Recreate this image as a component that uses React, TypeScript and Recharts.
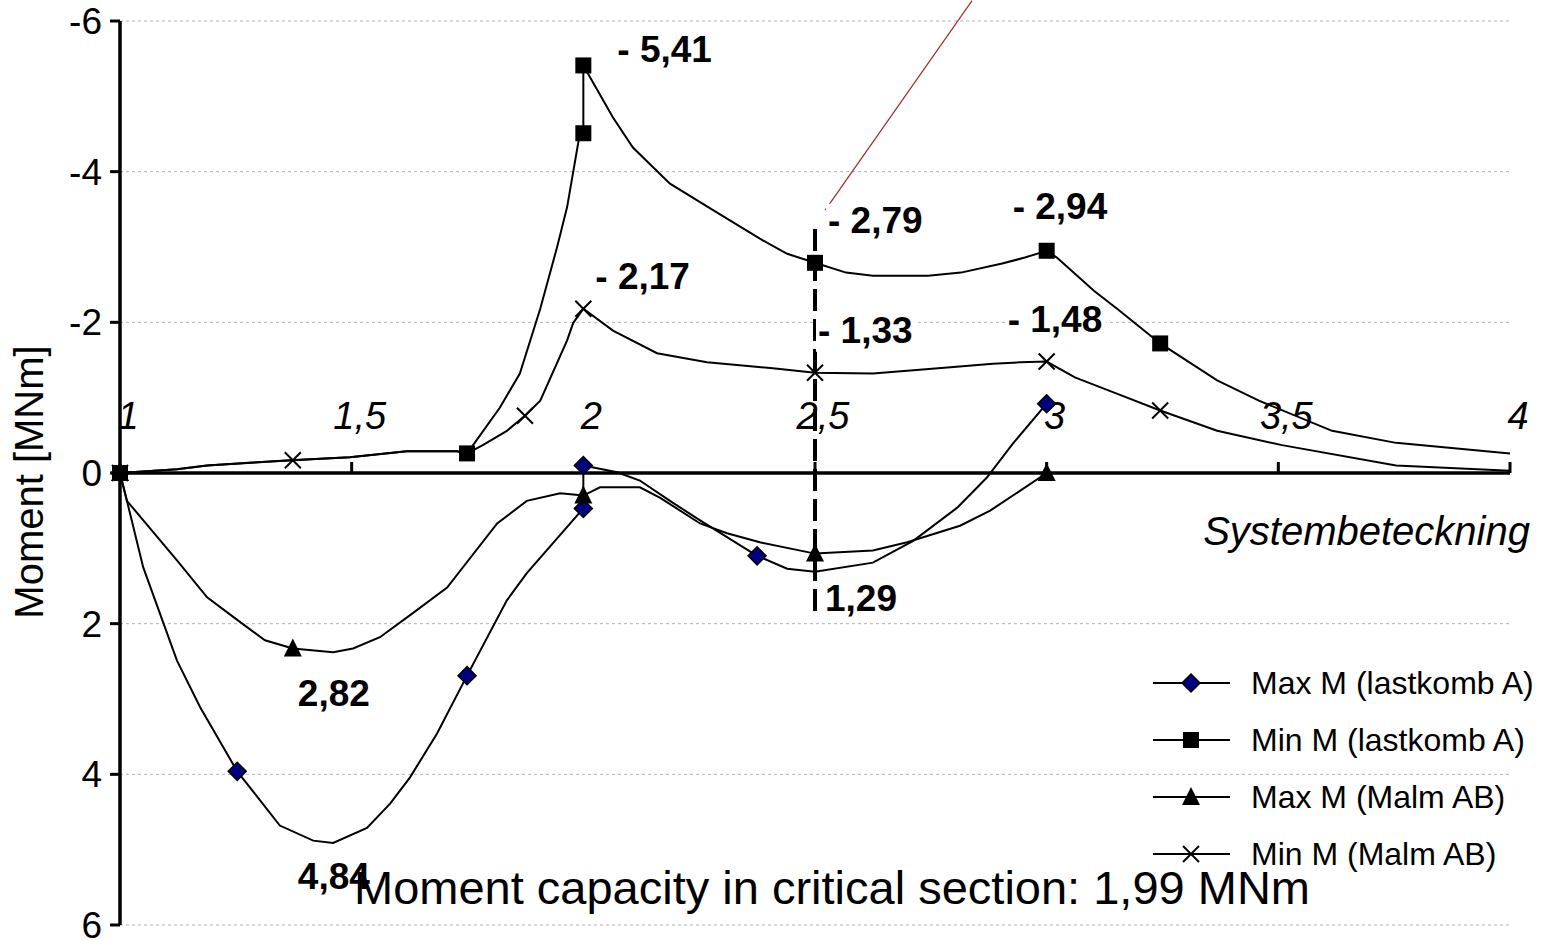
import React from 'react';
import { LineChart, Line, XAxis, YAxis, CartesianGrid, ReferenceLine, ReferenceDot, Legend } from 'recharts';

type Pt = { x: number; y: number; m?: boolean };

// Max M (lastkomb A) - diamonds
const maxLastkombA: Pt[] = [
  { x: 1, y: 0, m: true }, { x: 1.015, y: 0.37 }, { x: 1.05, y: 1.25 }, { x: 1.123, y: 2.49 },
  { x: 1.173, y: 3.11 }, { x: 1.253, y: 3.96, m: true }, { x: 1.345, y: 4.68 }, { x: 1.417, y: 4.88 },
  { x: 1.46, y: 4.91 }, { x: 1.533, y: 4.71 }, { x: 1.583, y: 4.39 }, { x: 1.626, y: 4.04 },
  { x: 1.684, y: 3.46 }, { x: 1.749, y: 2.69, m: true }, { x: 1.835, y: 1.69 }, { x: 1.878, y: 1.33 },
  { x: 2, y: 0.47, m: true }, { x: 2, y: -0.1, m: true }, { x: 2.073, y: -0.01 }, { x: 2.122, y: 0.1 },
  { x: 2.187, y: 0.37 }, { x: 2.252, y: 0.63 }, { x: 2.375, y: 1.1, m: true }, { x: 2.44, y: 1.27 },
  { x: 2.5, y: 1.31 }, { x: 2.625, y: 1.19 }, { x: 2.712, y: 0.9 }, { x: 2.807, y: 0.46 },
  { x: 2.871, y: 0.06 }, { x: 2.927, y: -0.39 }, { x: 3, y: -0.92, m: true },
];

// Min M (lastkomb A) - squares
const minLastkombA: Pt[] = [
  { x: 1, y: 0, m: true }, { x: 1.123, y: -0.05 }, { x: 1.188, y: -0.1 }, { x: 1.367, y: -0.17 },
  { x: 1.496, y: -0.21 }, { x: 1.619, y: -0.29 }, { x: 1.727, y: -0.29 }, { x: 1.749, y: -0.26, m: true },
  { x: 1.762, y: -0.37 }, { x: 1.82, y: -0.87 }, { x: 1.863, y: -1.32 }, { x: 1.907, y: -2.18 },
  { x: 1.943, y: -2.99 }, { x: 1.965, y: -3.53 }, { x: 1.99, y: -4.42 }, { x: 2, y: -4.51, m: true },
  { x: 2, y: -5.41, m: true }, { x: 2.064, y: -4.72 }, { x: 2.107, y: -4.32 }, { x: 2.187, y: -3.84 },
  { x: 2.28, y: -3.49 }, { x: 2.381, y: -3.11 }, { x: 2.44, y: -2.91 }, { x: 2.5, y: -2.79, m: true },
  { x: 2.567, y: -2.66 }, { x: 2.625, y: -2.62 }, { x: 2.744, y: -2.62 }, { x: 2.815, y: -2.66 },
  { x: 2.904, y: -2.78 }, { x: 2.953, y: -2.86 }, { x: 3, y: -2.95, m: true }, { x: 3.022, y: -2.86 },
  { x: 3.102, y: -2.42 }, { x: 3.152, y: -2.18 }, { x: 3.245, y: -1.72, m: true }, { x: 3.368, y: -1.23 },
  { x: 3.458, y: -0.96 }, { x: 3.616, y: -0.56 }, { x: 3.754, y: -0.4 }, { x: 4, y: -0.26 },
];

// Max M (Malm AB) - triangles
const maxMalmAB: Pt[] = [
  { x: 1, y: 0, m: true }, { x: 1.015, y: 0.37 }, { x: 1.123, y: 1.16 }, { x: 1.188, y: 1.65 },
  { x: 1.253, y: 1.95 }, { x: 1.313, y: 2.22 }, { x: 1.373, y: 2.33, m: true }, { x: 1.46, y: 2.38 },
  { x: 1.503, y: 2.33 }, { x: 1.561, y: 2.18 }, { x: 1.632, y: 1.86 }, { x: 1.706, y: 1.52 },
  { x: 1.814, y: 0.67 }, { x: 1.878, y: 0.37 }, { x: 1.95, y: 0.27 }, { x: 2, y: 0.3, m: true },
  { x: 2.036, y: 0.19 }, { x: 2.122, y: 0.19 }, { x: 2.166, y: 0.33 }, { x: 2.252, y: 0.67 },
  { x: 2.31, y: 0.8 }, { x: 2.381, y: 0.92 }, { x: 2.5, y: 1.07, m: true }, { x: 2.625, y: 1.03 },
  { x: 2.699, y: 0.92 }, { x: 2.813, y: 0.7 }, { x: 2.878, y: 0.5 }, { x: 3, y: 0, m: true },
];

// Min M (Malm AB) - crosses
const minMalmAB: Pt[] = [
  { x: 1, y: 0, m: true }, { x: 1.123, y: -0.05 }, { x: 1.188, y: -0.1 }, { x: 1.373, y: -0.17, m: true },
  { x: 1.496, y: -0.21 }, { x: 1.619, y: -0.29 }, { x: 1.727, y: -0.29 }, { x: 1.749, y: -0.26 },
  { x: 1.783, y: -0.37 }, { x: 1.835, y: -0.56 }, { x: 1.874, y: -0.76, m: true }, { x: 1.907, y: -0.96 },
  { x: 1.965, y: -1.76 }, { x: 1.978, y: -1.99 }, { x: 2, y: -2.18, m: true }, { x: 2.064, y: -1.89 },
  { x: 2.159, y: -1.59 }, { x: 2.267, y: -1.47 }, { x: 2.409, y: -1.39 }, { x: 2.5, y: -1.33, m: true },
  { x: 2.625, y: -1.32 }, { x: 2.766, y: -1.39 }, { x: 2.884, y: -1.45 }, { x: 2.943, y: -1.47 },
  { x: 3, y: -1.48, m: true }, { x: 3.061, y: -1.27 }, { x: 3.161, y: -1.03 }, { x: 3.245, y: -0.83, m: true },
  { x: 3.368, y: -0.56 }, { x: 3.508, y: -0.37 }, { x: 3.754, y: -0.1 }, { x: 4, y: -0.03 },
];

const xTicks = [1, 1.5, 2, 2.5, 3, 3.5, 4];
const xTickLabels = ['1', '1,5', '2', '2,5', '3', '3,5', '4'];
const yTicks = [-6, -4, -2, 0, 2, 4, 6];

const annotations = [
  { x: 2, y: -5.41, text: '- 5,41' },
  { x: 2, y: -2.18, text: '- 2,17' },
  { x: 2.5, y: -2.79, text: '- 2,79' },
  { x: 2.5, y: -1.33, text: '- 1,33' },
  { x: 3, y: -2.95, text: '- 2,94' },
  { x: 3, y: -1.48, text: '- 1,48' },
  { x: 2.5, y: 1.31, text: '1,29' },
  { x: 1.373, y: 2.33, text: '2,82' },
  { x: 1.373, y: 4.84, text: '4,84' },
];
// pixel offsets of the label text from its point
const labelOffsets: Record<string, [number, number]> = {
  '- 5,41': [34, -3], '- 2,17': [12, -20], '- 2,79': [13, -30], '- 1,33': [3, -30],
  '- 2,94': [-34, -32], '- 1,48': [-39, -30], '1,29': [10, 39], '2,82': [5, 57], '4,84': [5, 51],
};
// labels drawn without the white box behind them
const transparentLabels = ['4,84', '2,82'];

const criticalSection = { x: 2.5, from: -3.24, to: 1.89 };
const pointerLine = [{ x: 2.522, y: -3.49 }, { x: 2.839, y: -6.27 }];

const FONT = '"Liberation Sans", Arial, sans-serif';

type Shape = 'diamond' | 'square' | 'triangle' | 'cross';

const series: { name: string; data: Pt[]; shape: Shape }[] = [
  { name: 'Max M (lastkomb A)', data: maxLastkombA, shape: 'diamond' },
  { name: 'Min M (lastkomb A)', data: minLastkombA, shape: 'square' },
  { name: 'Max M (Malm AB)', data: maxMalmAB, shape: 'triangle' },
  { name: 'Min M (Malm AB)', data: minMalmAB, shape: 'cross' },
];

const Marker = ({ shape, cx, cy }: { shape: Shape; cx: number; cy: number }) => {
  if (shape === 'diamond')
    return <polygon points={`${cx},${cy - 9} ${cx + 9},${cy} ${cx},${cy + 9} ${cx - 9},${cy}`} fill="#000080" stroke="#000" strokeWidth={1.5} />;
  if (shape === 'square') return <rect x={cx - 8} y={cy - 8} width={16} height={16} fill="#000" />;
  if (shape === 'triangle')
    return <polygon points={`${cx},${cy - 10} ${cx + 9},${cy + 8} ${cx - 9},${cy + 8}`} fill="#000" />;
  return (
    <g stroke="#000" strokeWidth={2}>
      <line x1={cx - 8} y1={cy - 8} x2={cx + 8} y2={cy + 8} />
      <line x1={cx - 8} y1={cy + 8} x2={cx + 8} y2={cy - 8} />
    </g>
  );
};

const makeDot = (shape: Shape) => (props: any) => {
  const { cx, cy, payload, index } = props;
  if (!payload || !payload.m || cx == null || cy == null) return <g key={`${shape}-${index}`} />;
  return (
    <g key={`${shape}-${index}`}>
      <Marker shape={shape} cx={cx} cy={cy} />
    </g>
  );
};

const boldWidth = (s: string, fs: number) =>
  s.split('').reduce((w, c) => w + (c === ' ' || c === ',' ? 0.278 : c === '-' ? 0.333 : 0.556), 0) * fs;

const renderLegend = () => (
  <svg width={390} height={230} style={{ overflow: 'visible' }}>
    {series.map((s, i) => {
      const cy = 28 + i * 57;
      return (
        <g key={s.name}>
          <line x1={3} y1={cy} x2={80} y2={cy} stroke="#000" strokeWidth={2} />
          <Marker shape={s.shape} cx={41} cy={cy} />
          <text x={101} y={cy + 11} fontSize={32} fontFamily={FONT} fill="#000">{s.name}</text>
        </g>
      );
    })}
  </svg>
);

export default function App() {
  return (
    <div style={{ position: 'absolute', left: 0, top: 0, width: 1542, height: 940, background: '#fff' }}>
      <LineChart width={1542} height={940} margin={{ top: 21, right: 32, bottom: 15, left: 0 }}>
        <CartesianGrid vertical={false} strokeDasharray="3 3" stroke="#b4b4b4" />
        <XAxis type="number" dataKey="x" domain={[1, 4]} hide />
        <YAxis
          type="number"
          domain={[-6, 6]}
          ticks={yTicks}
          reversed
          width={120}
          interval={0}
          axisLine={{ stroke: '#000', strokeWidth: 3.5 }}
          tickLine={{ stroke: '#000', strokeWidth: 3 }}
          tickSize={10}
          tickMargin={8}
          tick={{ fontSize: 37, fill: '#000', fontFamily: FONT }}
          label={(p: any) => {
            const vb = p.viewBox || { x: 0, y: 21, height: 904 };
            const cy = vb.y + vb.height / 2 + 9;
            return (
              <text x={43} y={cy} transform={`rotate(-90, 43, ${cy})`} textAnchor="middle" fontSize={40} fontFamily={FONT} fill="#000">
                Moment [MNm]
              </text>
            );
          }}
        />
        <ReferenceLine y={0} stroke="#000" strokeWidth={3.5} />
        {xTicks.map((t, i) => (
          <ReferenceDot
            key={`xt-${t}`}
            x={t}
            y={0}
            r={0}
            ifOverflow="visible"
            shape={(p: any) => (
              <g>
                {i > 0 && <line x1={p.cx} y1={p.cy} x2={p.cx} y2={p.cy - 11} stroke="#000" strokeWidth={3} />}
                <text x={p.cx + 8} y={p.cy - 44} textAnchor="middle" fontSize={38} fontStyle="italic" fontFamily={FONT} fill="#000">
                  {xTickLabels[i]}
                </text>
              </g>
            )}
          />
        ))}
        <ReferenceDot
          x={4}
          y={0}
          r={0}
          ifOverflow="visible"
          shape={(p: any) => (
            <text x={p.cx + 20} y={p.cy + 72} textAnchor="end" fontSize={40} fontStyle="italic" fontFamily={FONT} fill="#000">
              Systembeteckning
            </text>
          )}
        />
        {series.map((s) => (
          <Line
            key={s.name}
            name={s.name}
            data={s.data}
            dataKey="y"
            type="linear"
            stroke="#000"
            strokeWidth={2}
            dot={makeDot(s.shape)}
            activeDot={false}
            isAnimationActive={false}
            legendType="none"
          />
        ))}
        {annotations.map((a) => {
          const [dx, dy] = labelOffsets[a.text];
          const w = boldWidth(a.text, 37);
          const boxed = !transparentLabels.includes(a.text);
          return (
            <ReferenceDot
              key={`an-${a.text}`}
              x={a.x}
              y={a.y}
              r={0}
              ifOverflow="visible"
              shape={(p: any) => (
                <g>
                  {boxed && <rect x={p.cx + dx - 2} y={p.cy + dy - 29} width={w + 6} height={38} fill="#fff" />}
                  <text x={p.cx + dx} y={p.cy + dy} fontSize={37} fontWeight="bold" fontFamily={FONT} fill="#000">
                    {a.text}
                  </text>
                </g>
              )}
            />
          );
        })}
        <ReferenceLine
          segment={[{ x: criticalSection.x, y: criticalSection.from }, { x: criticalSection.x, y: criticalSection.to }]}
          stroke="#000"
          strokeWidth={4}
          strokeDasharray="22 8"
          ifOverflow="visible"
        />
        <ReferenceLine segment={pointerLine} stroke="#a32a2a" strokeWidth={1.2} ifOverflow="visible" />
        <text x={832} y={904} textAnchor="middle" fontSize={47} fontFamily={FONT} fill="#000">
          Moment capacity in critical section: 1,99 MNm
        </text>
        <Legend
          layout="vertical"
          align="center"
          verticalAlign="middle"
          content={renderLegend}
          wrapperStyle={{ position: 'absolute', left: 1150, top: 655, width: 390, height: 230 }}
        />
      </LineChart>
    </div>
  );
}
